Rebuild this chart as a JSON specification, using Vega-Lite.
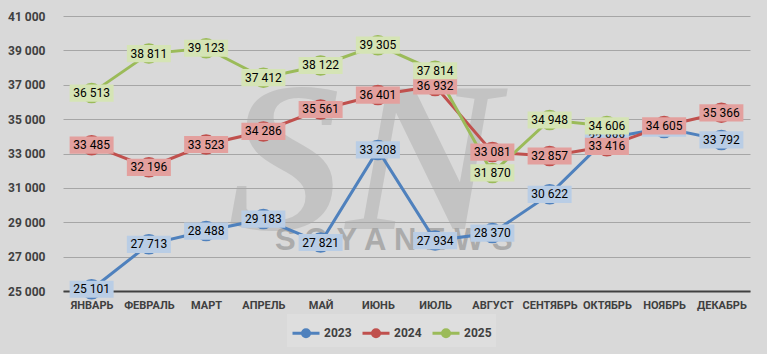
{
  "$schema": "https://vega.github.io/schema/vega-lite/v6.json",
  "width": 687,
  "height": 275,
  "autosize": {"type": "none"},
  "padding": {"left": 63, "top": 16, "right": 17, "bottom": 63},
  "background": "#d9d9d9",
  "config": {
    "view": {"stroke": null},
    "font": "Roboto",
    "locale": {"number": {"decimal": ",", "thousands": " ", "grouping": [3], "currency": ["", ""]}}
  },
  "data": {
    "values": [
      {"m": "ЯНВАРЬ", "s": "2023", "v": 25101},
      {"m": "ФЕВРАЛЬ", "s": "2023", "v": 27713},
      {"m": "МАРТ", "s": "2023", "v": 28488},
      {"m": "АПРЕЛЬ", "s": "2023", "v": 29183},
      {"m": "МАЙ", "s": "2023", "v": 27821},
      {"m": "ИЮНЬ", "s": "2023", "v": 33208},
      {"m": "ИЮЛЬ", "s": "2023", "v": 27934},
      {"m": "АВГУСТ", "s": "2023", "v": 28370},
      {"m": "СЕНТЯБРЬ", "s": "2023", "v": 30622},
      {"m": "ОКТЯБРЬ", "s": "2023", "v": 33888},
      {"m": "НОЯБРЬ", "s": "2023", "v": 34480},
      {"m": "ДЕКАБРЬ", "s": "2023", "v": 33792},
      {"m": "ЯНВАРЬ", "s": "2024", "v": 33485},
      {"m": "ФЕВРАЛЬ", "s": "2024", "v": 32196},
      {"m": "МАРТ", "s": "2024", "v": 33523},
      {"m": "АПРЕЛЬ", "s": "2024", "v": 34286},
      {"m": "МАЙ", "s": "2024", "v": 35561},
      {"m": "ИЮНЬ", "s": "2024", "v": 36401},
      {"m": "ИЮЛЬ", "s": "2024", "v": 36932},
      {"m": "АВГУСТ", "s": "2024", "v": 33081},
      {"m": "СЕНТЯБРЬ", "s": "2024", "v": 32857},
      {"m": "ОКТЯБРЬ", "s": "2024", "v": 33416},
      {"m": "НОЯБРЬ", "s": "2024", "v": 34605},
      {"m": "ДЕКАБРЬ", "s": "2024", "v": 35366},
      {"m": "ЯНВАРЬ", "s": "2025", "v": 36513},
      {"m": "ФЕВРАЛЬ", "s": "2025", "v": 38811},
      {"m": "МАРТ", "s": "2025", "v": 39123},
      {"m": "АПРЕЛЬ", "s": "2025", "v": 37412},
      {"m": "МАЙ", "s": "2025", "v": 38122},
      {"m": "ИЮНЬ", "s": "2025", "v": 39305},
      {"m": "ИЮЛЬ", "s": "2025", "v": 37814},
      {"m": "АВГУСТ", "s": "2025", "v": 31870},
      {"m": "СЕНТЯБРЬ", "s": "2025", "v": 34948},
      {"m": "ОКТЯБРЬ", "s": "2025", "v": 34606}
    ]
  },
  "encoding": {
    "x": {
      "field": "m",
      "type": "ordinal",
      "scale": {"type": "point", "padding": 0.5, "domain": ["ЯНВАРЬ", "ФЕВРАЛЬ", "МАРТ", "АПРЕЛЬ", "МАЙ", "ИЮНЬ", "ИЮЛЬ", "АВГУСТ", "СЕНТЯБРЬ", "ОКТЯБРЬ", "НОЯБРЬ", "ДЕКАБРЬ"]},
      "axis": {"title": null, "labelAngle": 0, "labelFont": "Roboto", "labelFontSize": 11, "labelFontWeight": "bold", "labelColor": "#404040", "labelPadding": 8, "ticks": false, "domainColor": "#404040", "domainWidth": 2, "grid": false}
    },
    "y": {
      "field": "v",
      "type": "quantitative",
      "scale": {"domain": [25000, 41000], "nice": false, "zero": false},
      "axis": {"title": null, "values": [25000, 27000, 29000, 31000, 33000, 35000, 37000, 39000, 41000], "format": ",d", "labelFont": "Roboto", "labelFontSize": 12, "labelFontWeight": "bold", "labelColor": "#404040", "labelPadding": 18, "ticks": false, "domain": false, "grid": true, "gridColor": "#a6a6a6", "gridWidth": 1}
    }
  },
  "layer": [
    {
      "data": {"values": [{"m": "ИЮНЬ", "v": 32400, "t": "SN"}]},
      "mark": {"type": "text", "font": "Liberation Serif", "fontStyle": "italic", "fontWeight": "bold", "fontSize": 215, "color": "#a9a9a9", "opacity": 0.45, "dx": -14, "baseline": "middle", "align": "center"},
      "encoding": {"text": {"field": "t"}}
    },
    {
      "data": {"values": [{"m": "ИЮНЬ", "v": 27900, "t": "S   O   Y   A   N   E   W   S"}]},
      "mark": {"type": "text", "font": "Liberation Sans", "fontWeight": "bold", "fontSize": 31, "color": "#a3a3a3", "opacity": 0.85, "dx": 16, "baseline": "middle", "align": "center"},
      "encoding": {"text": {"field": "t"}}
    },
    {
      "mark": {"type": "line", "strokeWidth": 3},
      "encoding": {
        "color": {
          "field": "s",
          "type": "nominal",
          "scale": {"domain": ["2023", "2024", "2025"], "range": ["#4f81bd", "#c0504d", "#9bbb59"]},
          "legend": {
            "title": null,
            "orient": "none",
            "legendX": 224,
            "legendY": 298,
            "direction": "horizontal",
            "symbolType": "M-1,0L1,0M0.26,0A0.26,0.26,0,1,1,-0.26,0A0.26,0.26,0,1,1,0.26,0Z",
            "symbolSize": 729,
            "symbolStrokeWidth": 3,
            "labelFont": "Roboto",
            "labelFontSize": 12,
            "labelFontWeight": "bold",
            "labelColor": "#404040",
            "labelOffset": 3,
            "columnPadding": 4,
            "fillColor": "#dedede",
            "padding": 4,
            "encode": {"symbols": {"update": {"fill": {"scale": "color", "field": "value"}, "stroke": {"scale": "color", "field": "value"}}}}
          }
        }
      }
    },
    {
      "mark": {"type": "point", "filled": true, "size": 420, "opacity": 1},
      "encoding": {"color": {"field": "s", "type": "nominal"}}
    },
    {
      "transform": [{"filter": "datum.s == '2023'"}],
      "mark": {"type": "point", "shape": "M-1,-0.39L1,-0.39L1,0.39L-1,0.39Z", "filled": true, "size": 1936, "opacity": 1, "color": "#b9cde5"}
    },
    {
      "transform": [{"filter": "datum.s == '2023'"}],
      "mark": {"type": "text", "font": "Roboto", "fontSize": 12, "color": "#000000"},
      "encoding": {"text": {"field": "v", "type": "quantitative", "format": ",d"}}
    },
    {
      "transform": [{"filter": "datum.s == '2024'"}],
      "mark": {"type": "point", "shape": "M-1,-0.39L1,-0.39L1,0.39L-1,0.39Z", "filled": true, "size": 1936, "opacity": 1, "color": "#e3a09e"}
    },
    {
      "transform": [{"filter": "datum.s == '2024'"}],
      "mark": {"type": "text", "font": "Roboto", "fontSize": 12, "color": "#000000"},
      "encoding": {"text": {"field": "v", "type": "quantitative", "format": ",d"}}
    },
    {
      "transform": [{"filter": "datum.s == '2025'"}],
      "mark": {"type": "point", "shape": "M-1,-0.39L1,-0.39L1,0.39L-1,0.39Z", "filled": true, "size": 1936, "opacity": 1, "color": "#d5e4b5"}
    },
    {
      "transform": [{"filter": "datum.s == '2025'"}],
      "mark": {"type": "text", "font": "Roboto", "fontSize": 12, "color": "#000000"},
      "encoding": {"text": {"field": "v", "type": "quantitative", "format": ",d"}}
    }
  ]
}
